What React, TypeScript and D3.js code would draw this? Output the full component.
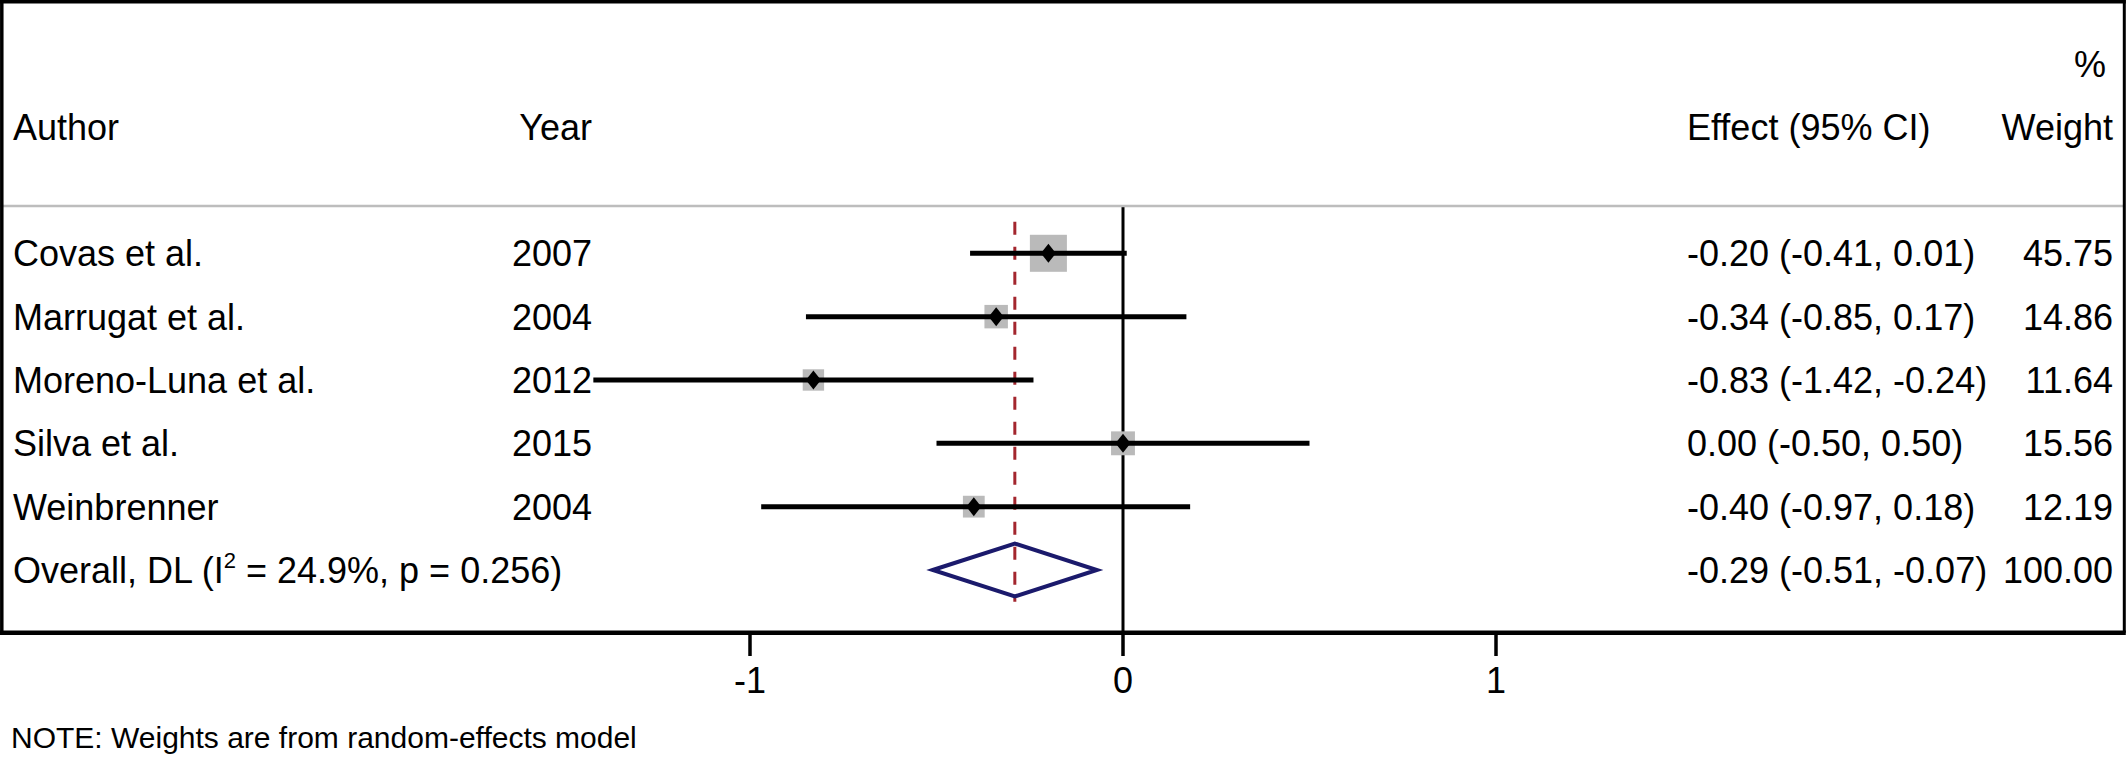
import React from "react";
import * as d3 from "d3";

const authors = ["Covas et al.", "Marrugat et al.", "Moreno-Luna et al.", "Silva et al.", "Weinbrenner"];
const years = [2007, 2004, 2012, 2015, 2004];
const effects = [-0.2, -0.34, -0.83, 0.0, -0.4];
const lowers = [-0.41, -0.85, -1.42, -0.5, -0.97];
const uppers = [0.01, 0.17, -0.24, 0.5, 0.18];
const weights = [45.75, 14.86, 11.64, 15.56, 12.19];
const overallLabel = "Overall, DL";
const overallI2 = "24.9%";
const overallP = "0.256";
const overallEffect = -0.29;
const overallLower = -0.51;
const overallUpper = -0.07;
const overallWeight = 100.0;
const xTicks = [-1, 0, 1];
const noteText = "NOTE: Weights are from random-effects model";

const W = 2128;
const H = 760;
const FONT = "'Liberation Sans', Arial, Helvetica, sans-serif";

const locale = d3.formatLocale({
  decimal: ".",
  thousands: ",",
  grouping: [3],
  currency: ["", ""],
  minus: "-",
});

export default function App() {
  const x = d3.scaleLinear().domain([-1, 1]).range([750, 1496]);
  const rowKeys = [...authors.map((_, i) => `r${i}`), "overall"];
  const y = d3.scalePoint<string>().domain(rowKeys).range([253.3, 570]);
  const step = y.step();
  const side = d3.scaleSqrt().domain([0, 100]).range([0, 46.6]);
  const f2 = locale.format(".2f");
  const fd = locale.format("d");
  const fmt = (v: number) => (Math.abs(v) < 0.005 ? "0.00" : f2(v));
  const effStr = (e: number, l: number, h: number) => `${fmt(e)} (${fmt(l)}, ${fmt(h)})`;

  const boxL = 1.8, boxR = 2124.3, boxT = 1.7, boxB = 632.8;
  const sepY = 206;
  const textDy = 13;
  const yOverall = y("overall")!;
  const dh = 26.5;

  return (
    <svg width={W} height={H} style={{ position: "absolute", left: 0, top: 0 }} fontFamily={FONT}>
      <rect x={0} y={0} width={W} height={H} fill="#ffffff" />

      {/* header */}
      <text x={2106} y={77} fontSize={36} textAnchor="end">%</text>
      <text x={13} y={140} fontSize={36}>Author</text>
      <text x={592} y={140} fontSize={36} textAnchor="end">Year</text>
      <text x={1687} y={140} fontSize={36}>Effect (95% CI)</text>
      <text x={2113} y={140} fontSize={36} textAnchor="end">Weight</text>

      {/* zero line */}
      <line x1={x(0)} x2={x(0)} y1={sepY} y2={boxB} stroke="#000" strokeWidth={3} />

      {/* overall dashed line */}
      <line
        x1={x(overallEffect)}
        x2={x(overallEffect)}
        y1={y("r0")! - step / 2}
        y2={yOverall + step / 2}
        stroke="#a3262e"
        strokeWidth={3}
        strokeDasharray="13,12"
      />

      {/* study rows */}
      {authors.map((a, i) => {
        const yc = y(`r${i}`)!;
        const s = side(weights[i]);
        const xe = x(effects[i]);
        return (
          <g key={a}>
            <rect x={xe - s / 2} y={yc - s / 2} width={s} height={s} fill="#bababa" stroke="#bababa" strokeWidth={5.5} />
            <line x1={x(lowers[i])} x2={x(uppers[i])} y1={yc} y2={yc} stroke="#000" strokeWidth={5} />
            <path d={`M${xe - 7.5},${yc}L${xe},${yc - 9.5}L${xe + 7.5},${yc}L${xe},${yc + 9.5}Z`} fill="#000" />
            <text x={13} y={yc + textDy} fontSize={36}>{a}</text>
            <text x={592} y={yc + textDy} fontSize={36} textAnchor="end">{years[i]}</text>
            <text x={1687} y={yc + textDy} fontSize={36}>{effStr(effects[i], lowers[i], uppers[i])}</text>
            <text x={2113} y={yc + textDy} fontSize={36} textAnchor="end">{f2(weights[i])}</text>
          </g>
        );
      })}

      {/* overall */}
      <path
        d={`M${x(overallLower)},${yOverall}L${x(overallEffect)},${yOverall - dh}L${x(overallUpper)},${yOverall}L${x(overallEffect)},${yOverall + dh}Z`}
        fill="none"
        stroke="#1b1a6c"
        strokeWidth={4}
      />
      <text x={13} y={yOverall + textDy} fontSize={36}>
        {overallLabel} (I
        <tspan fontSize={22} dy={-15}>2</tspan>
        <tspan dy={15}> = {overallI2}, p = {overallP})</tspan>
      </text>
      <text x={1687} y={yOverall + textDy} fontSize={36}>{effStr(overallEffect, overallLower, overallUpper)}</text>
      <text x={2113} y={yOverall + textDy} fontSize={36} textAnchor="end">{f2(overallWeight)}</text>

      {/* header separator */}
      <line x1={0} x2={boxR} y1={sepY} y2={sepY} stroke="#bdbdbd" strokeWidth={2.5} />

      {/* box */}
      <line x1={0} x2={boxR + 1.5} y1={boxT} y2={boxT} stroke="#000" strokeWidth={3.5} />
      <line x1={boxL} x2={boxL} y1={0} y2={boxB} stroke="#000" strokeWidth={3.5} />
      <line x1={boxR} x2={boxR} y1={0} y2={boxB} stroke="#000" strokeWidth={3} />
      <line x1={0} x2={boxR + 1.5} y1={boxB} y2={boxB} stroke="#000" strokeWidth={4.5} />

      {/* axis ticks */}
      {xTicks.map((t) => (
        <g key={t}>
          <line x1={x(t)} x2={x(t)} y1={boxB} y2={656} stroke="#000" strokeWidth={3.5} />
          <text x={x(t)} y={692.5} fontSize={36} textAnchor="middle">{fd(t)}</text>
        </g>
      ))}

      <text x={11} y={748} fontSize={30}>{noteText}</text>
    </svg>
  );
}
